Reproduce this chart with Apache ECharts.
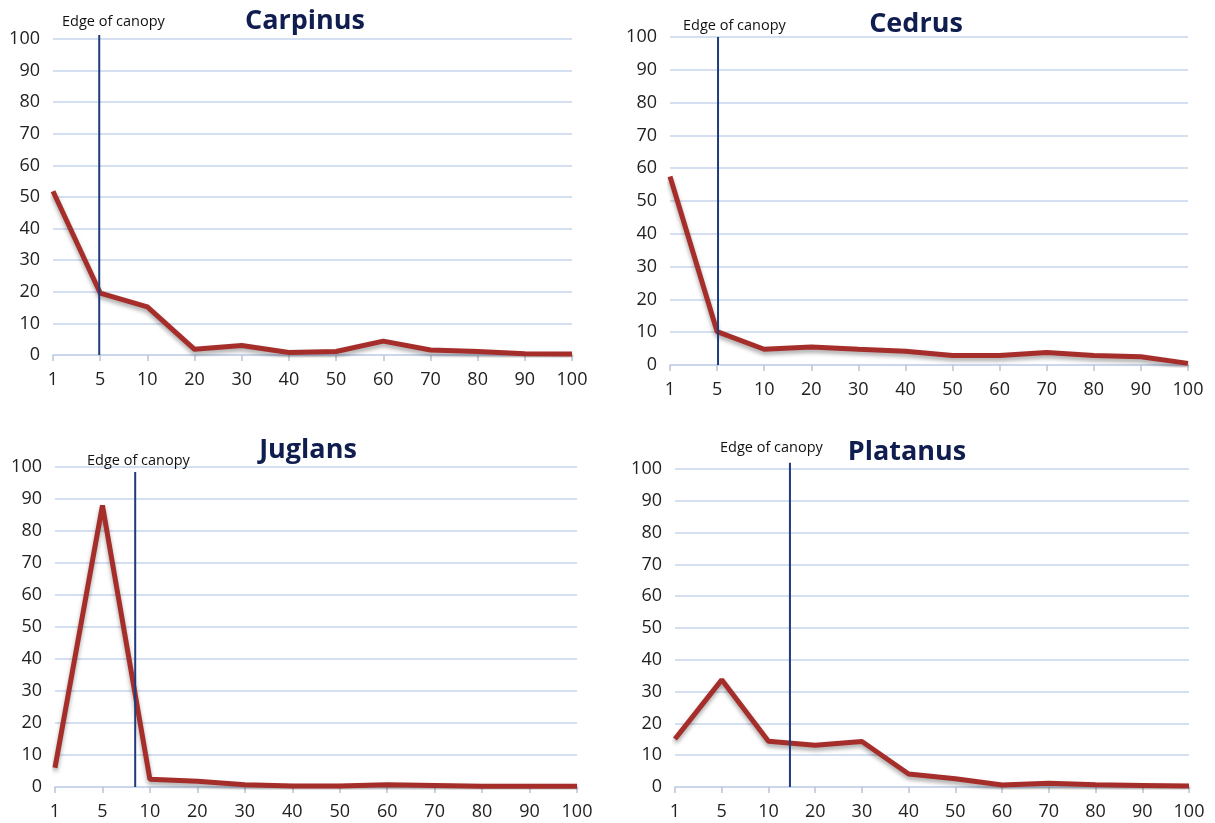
<!DOCTYPE html>
<html>
<head>
<meta charset="utf-8">
<script src="https://cdn.jsdelivr.net/npm/echarts@6/dist/echarts.min.js"></script>
<style>
html,body{margin:0;padding:0;background:#fff;}
#chart{width:1215px;height:823px;}
</style>
</head>
<body>
<div id="chart"></div>
<script>
// ---- data ----
const distances = ['1','5','10','20','30','40','50','60','70','80','90','100'];
const yTicks = [0,10,20,30,40,50,60,70,80,90,100];
const speciesNames = ['Carpinus','Cedrus','Juglans','Platanus'];
const carpinus = [51.8, 19.6, 15.2, 1.8, 3.0, 0.8, 1.1, 4.4, 1.6, 1.1, 0.4, 0.3];
const cedrus   = [57.5, 10.2, 4.8, 5.5, 4.8, 4.2, 2.9, 2.9, 3.8, 2.9, 2.5, 0.5];
const juglans  = [6.0, 88.0, 2.4, 1.8, 0.7, 0.3, 0.3, 0.7, 0.5, 0.2, 0.2, 0.2];
const platanus = [15.1, 33.7, 14.4, 13.1, 14.3, 4.1, 2.6, 0.6, 1.2, 0.7, 0.5, 0.3];
// canopy edge position expressed in category-index units, with line top value
const canopyPos = [0.98, 1.02, 1.69, 2.46];
const canopyTop = [101.3, 100, 98.4, 102];
const canopyLabel = 'Edge of canopy';

const seriesData = [carpinus, cedrus, juglans, platanus];

// ---- layout ----
const grids = [
  {left:53, top:39, width:519, height:316},
  {left:670, top:37, width:518, height:328},
  {left:55, top:467, width:522, height:320},
  {left:675, top:469, width:514, height:318}
];
const titlePos = [
  {x:305, y:8}, {x:916, y:11}, {x:308, y:437}, {x:907, y:439}
];
const edgePos = [
  {x:62, y:14}, {x:683, y:18}, {x:87, y:453}, {x:720, y:440}
];

const gridColor = '#c6d4ec';
const fontFam = '"Open Sans", "Noto Sans", sans-serif';

const xAxes = [], yAxes = [], series = [], titles = [];
grids.forEach((g, i) => {
  xAxes.push({
    type:'category', gridIndex:i, data:distances, boundaryGap:false,
    axisLine:{show:true, lineStyle:{color:gridColor, width:1.5}},
    axisTick:{show:true, length:6, alignWithLabel:true, lineStyle:{color:'#b9c4d6', width:1.5}},
    axisLabel:{color:'#222', fontSize:18, fontFamily:fontFam, margin:16, interval:0}
  });
  yAxes.push({
    type:'value', gridIndex:i, min:0, max:100, interval:10,
    axisLine:{show:false}, axisTick:{show:false},
    axisLabel:{color:'#222', fontSize:18, fontFamily:fontFam, margin:13},
    splitLine:{show:true, lineStyle:{color:gridColor, width:1.5}}
  });
});
// hidden value x-axes for canopy edge lines
grids.forEach((g, i) => {
  xAxes.push({
    type:'value', gridIndex:i, min:0, max:distances.length-1, show:false
  });
});
grids.forEach((g, i) => {
  series.push({
    type:'line', xAxisIndex:i, yAxisIndex:i, data:seriesData[i],
    symbol:'none', smooth:false, z:3,
    lineStyle:{color:'#a52d2a', width:5, shadowColor:'rgba(0,0,0,0.35)', shadowBlur:4, shadowOffsetY:3}
  });
  series.push({
    type:'line', xAxisIndex:grids.length+i, yAxisIndex:i,
    data:[[canopyPos[i], 0], [canopyPos[i], canopyTop[i]]],
    symbol:'none', z:4, clip:false,
    lineStyle:{color:'#1f3b7c', width:2}
  });
  titles.push({
    text:speciesNames[i], left:titlePos[i].x, top:titlePos[i].y, textAlign:'center', padding:0,
    textStyle:{fontFamily:fontFam, fontWeight:'bold', fontSize:27, color:'#0f1d4f'}
  });
  titles.push({
    text:canopyLabel, left:edgePos[i].x, top:edgePos[i].y, padding:0,
    textStyle:{fontFamily:fontFam, fontWeight:'normal', fontSize:14.5, color:'#111'}
  });
});

const chart = echarts.init(document.getElementById('chart'), null, {renderer:'canvas'});
chart.setOption({
  animation:false,
  backgroundColor:'#ffffff',
  title:titles,
  grid:grids,
  xAxis:xAxes,
  yAxis:yAxes,
  series:series
});
</script>
</body>
</html>
